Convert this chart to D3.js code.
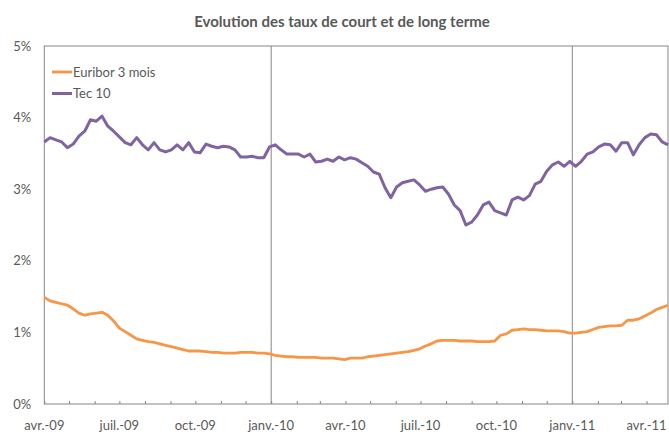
<!DOCTYPE html>
<html>
<head>
<meta charset="utf-8">
<script src="https://cdn.jsdelivr.net/npm/d3@7"></script>
<style>
  body { margin: 0; background: #fff; }
  text { font-family: Lato, "Open Sans", sans-serif; fill: #595959; }
</style>
</head>
<body>
<script>
// weekly values, from 1 Apr 2009
const startDate = new Date(2009, 3, 1);
const endDate = new Date(2011, 3, 27);

const euribor = [
  1.49, 1.44, 1.42, 1.40, 1.38, 1.33, 1.27, 1.24, 1.26, 1.27, 1.28, 1.24, 1.16, 1.06, 1.01, 0.96,
  0.91, 0.89, 0.87, 0.86, 0.84, 0.82, 0.80, 0.78, 0.76, 0.74, 0.74, 0.74, 0.73, 0.72, 0.72, 0.71,
  0.71, 0.71, 0.72, 0.72, 0.72, 0.71, 0.71, 0.70, 0.68, 0.67, 0.66, 0.66, 0.65, 0.65, 0.65, 0.65,
  0.64, 0.64, 0.64, 0.63, 0.62, 0.64, 0.64, 0.64, 0.66, 0.67, 0.68, 0.69, 0.70, 0.71, 0.72, 0.73,
  0.75, 0.77, 0.81, 0.84, 0.88, 0.89, 0.89, 0.89, 0.88, 0.88, 0.88, 0.87, 0.87, 0.87, 0.88, 0.96,
  0.98, 1.03, 1.04, 1.05, 1.04, 1.04, 1.03, 1.02, 1.02, 1.02, 1.01, 0.99, 0.99, 1.00, 1.01, 1.04,
  1.07, 1.08, 1.09, 1.09, 1.10, 1.17, 1.17, 1.19, 1.23, 1.27, 1.32, 1.35, 1.38
];

const tec10 = [
  3.66, 3.72, 3.69, 3.66, 3.58, 3.63, 3.74, 3.81, 3.97, 3.95, 4.02, 3.88, 3.81, 3.73, 3.65, 3.62,
  3.72, 3.62, 3.55, 3.65, 3.55, 3.52, 3.55, 3.62, 3.55, 3.65, 3.52, 3.51, 3.63, 3.60, 3.58, 3.60,
  3.59, 3.55, 3.45, 3.45, 3.46, 3.44, 3.44, 3.59, 3.62, 3.55, 3.49, 3.49, 3.49, 3.45, 3.49, 3.38,
  3.39, 3.42, 3.39, 3.45, 3.41, 3.44, 3.42, 3.37, 3.32, 3.24, 3.21, 3.02, 2.88, 3.03, 3.09, 3.11,
  3.13, 3.06, 2.97, 3.00, 3.02, 3.03, 2.93, 2.78, 2.70, 2.50, 2.54, 2.64, 2.78, 2.82, 2.70, 2.67,
  2.64, 2.85, 2.89, 2.85, 2.91, 3.07, 3.11, 3.25, 3.34, 3.38, 3.32, 3.39, 3.32, 3.39, 3.49, 3.52,
  3.59, 3.63, 3.62, 3.53, 3.65, 3.65, 3.48, 3.62, 3.72, 3.77, 3.76, 3.66, 3.62
];

const yTicks = [0, 1, 2, 3, 4, 5];
const yearLines = [new Date(2010, 0, 1), new Date(2011, 0, 1)];
const labelDates = [
  new Date(2009, 3, 1), new Date(2009, 6, 1), new Date(2009, 9, 1), new Date(2010, 0, 1),
  new Date(2010, 3, 1), new Date(2010, 6, 1), new Date(2010, 9, 1), new Date(2011, 0, 1),
  new Date(2011, 3, 1)
];
const monthNames = ['janv.', 'févr.', 'mars', 'avr.', 'mai', 'juin', 'juil.', 'août', 'sept.', 'oct.', 'nov.', 'déc.'];

const series = [
  { name: 'Euribor 3 mois', color: '#F79646', values: euribor, w: 2.8 },
  { name: 'Tec 10', color: '#8064A2', values: tec10, w: 3 }
];

const margin = { top: 46, right: 1, bottom: 30, left: 44.3 };
const W = 669;
const H = 434;
const width = W - margin.left - margin.right;
const height = H - margin.top - margin.bottom;

const svg = d3.select('body')
  .append('svg')
    .attr('width', W)
    .attr('height', H);

svg.append('text')
  .attr('x', 342)
  .attr('y', 27)
  .attr('text-anchor', 'middle')
  .style('font-size', '15px')
  .style('font-weight', 'bold')
  .text('Evolution des taux de court et de long terme');

const g = svg.append('g')
  .attr('transform', `translate(${margin.left}, ${margin.top})`);

const x = d3.scaleTime().domain([startDate, endDate]).range([0, width]);
const y = d3.scaleLinear().domain([0, 5]).range([height, 0]);

const dateAt = i => d3.timeDay.offset(startDate, i * 7);

// y labels
g.selectAll('.ylab')
  .data(yTicks)
  .enter()
  .append('text')
    .attr('x', -13)
    .attr('y', d => y(d) + 4.5)
    .attr('text-anchor', 'end')
    .style('font-size', '13px')
    .text(d => d + '%');

// month ticks on the axis, pointing up
const xAxis = d3.axisTop(x)
  .ticks(d3.timeMonth.every(1))
  .tickSize(3)
  .tickFormat('');

g.append('g')
  .attr('class', 'axis-x')
  .attr('transform', `translate(0, ${height})`)
  .call(xAxis)
  .call(a => a.select('.domain').remove())
  .call(a => a.selectAll('line').attr('stroke', '#868686'));

g.selectAll('.xlab')
  .data(labelDates)
  .enter()
  .append('text')
    .attr('x', d => x(d))
    .attr('y', height + 26)
    .attr('text-anchor', 'middle')
    .style('font-size', '13px')
    .text(d => monthNames[d.getMonth()] + '-' + String(d.getFullYear()).slice(2));

// year separators
g.selectAll('.year')
  .data(yearLines)
  .enter()
  .append('line')
    .attr('x1', d => x(d))
    .attr('x2', d => x(d))
    .attr('y1', 0)
    .attr('y2', height)
    .attr('stroke', '#868686')
    .attr('stroke-width', 1);

// plot frame
g.append('rect')
  .attr('x', 0)
  .attr('y', 0)
  .attr('width', width)
  .attr('height', height)
  .attr('fill', 'none')
  .attr('stroke', '#868686')
  .attr('stroke-width', 1);

const line = d3.line()
  .x((d, i) => x(dateAt(i)))
  .y(d => y(d));

g.selectAll('.serie')
  .data(series)
  .enter()
  .append('path')
    .attr('fill', 'none')
    .attr('stroke', d => d.color)
    .attr('stroke-width', d => d.w)
    .attr('stroke-linejoin', 'round')
    .attr('d', d => line(d.values));

// legend
const legend = svg.selectAll('.legend')
  .data(series)
  .enter()
  .append('g')
    .attr('transform', (d, n) => `translate(52, ${72 + n * 21.5})`);

legend.append('line')
  .attr('x1', 0)
  .attr('x2', 20)
  .attr('stroke', d => d.color)
  .attr('stroke-width', d => d.w);

legend.append('text')
  .attr('x', 21)
  .attr('y', 4.5)
  .style('font-size', '13px')
  .text(d => d.name);
</script>
</body>
</html>
